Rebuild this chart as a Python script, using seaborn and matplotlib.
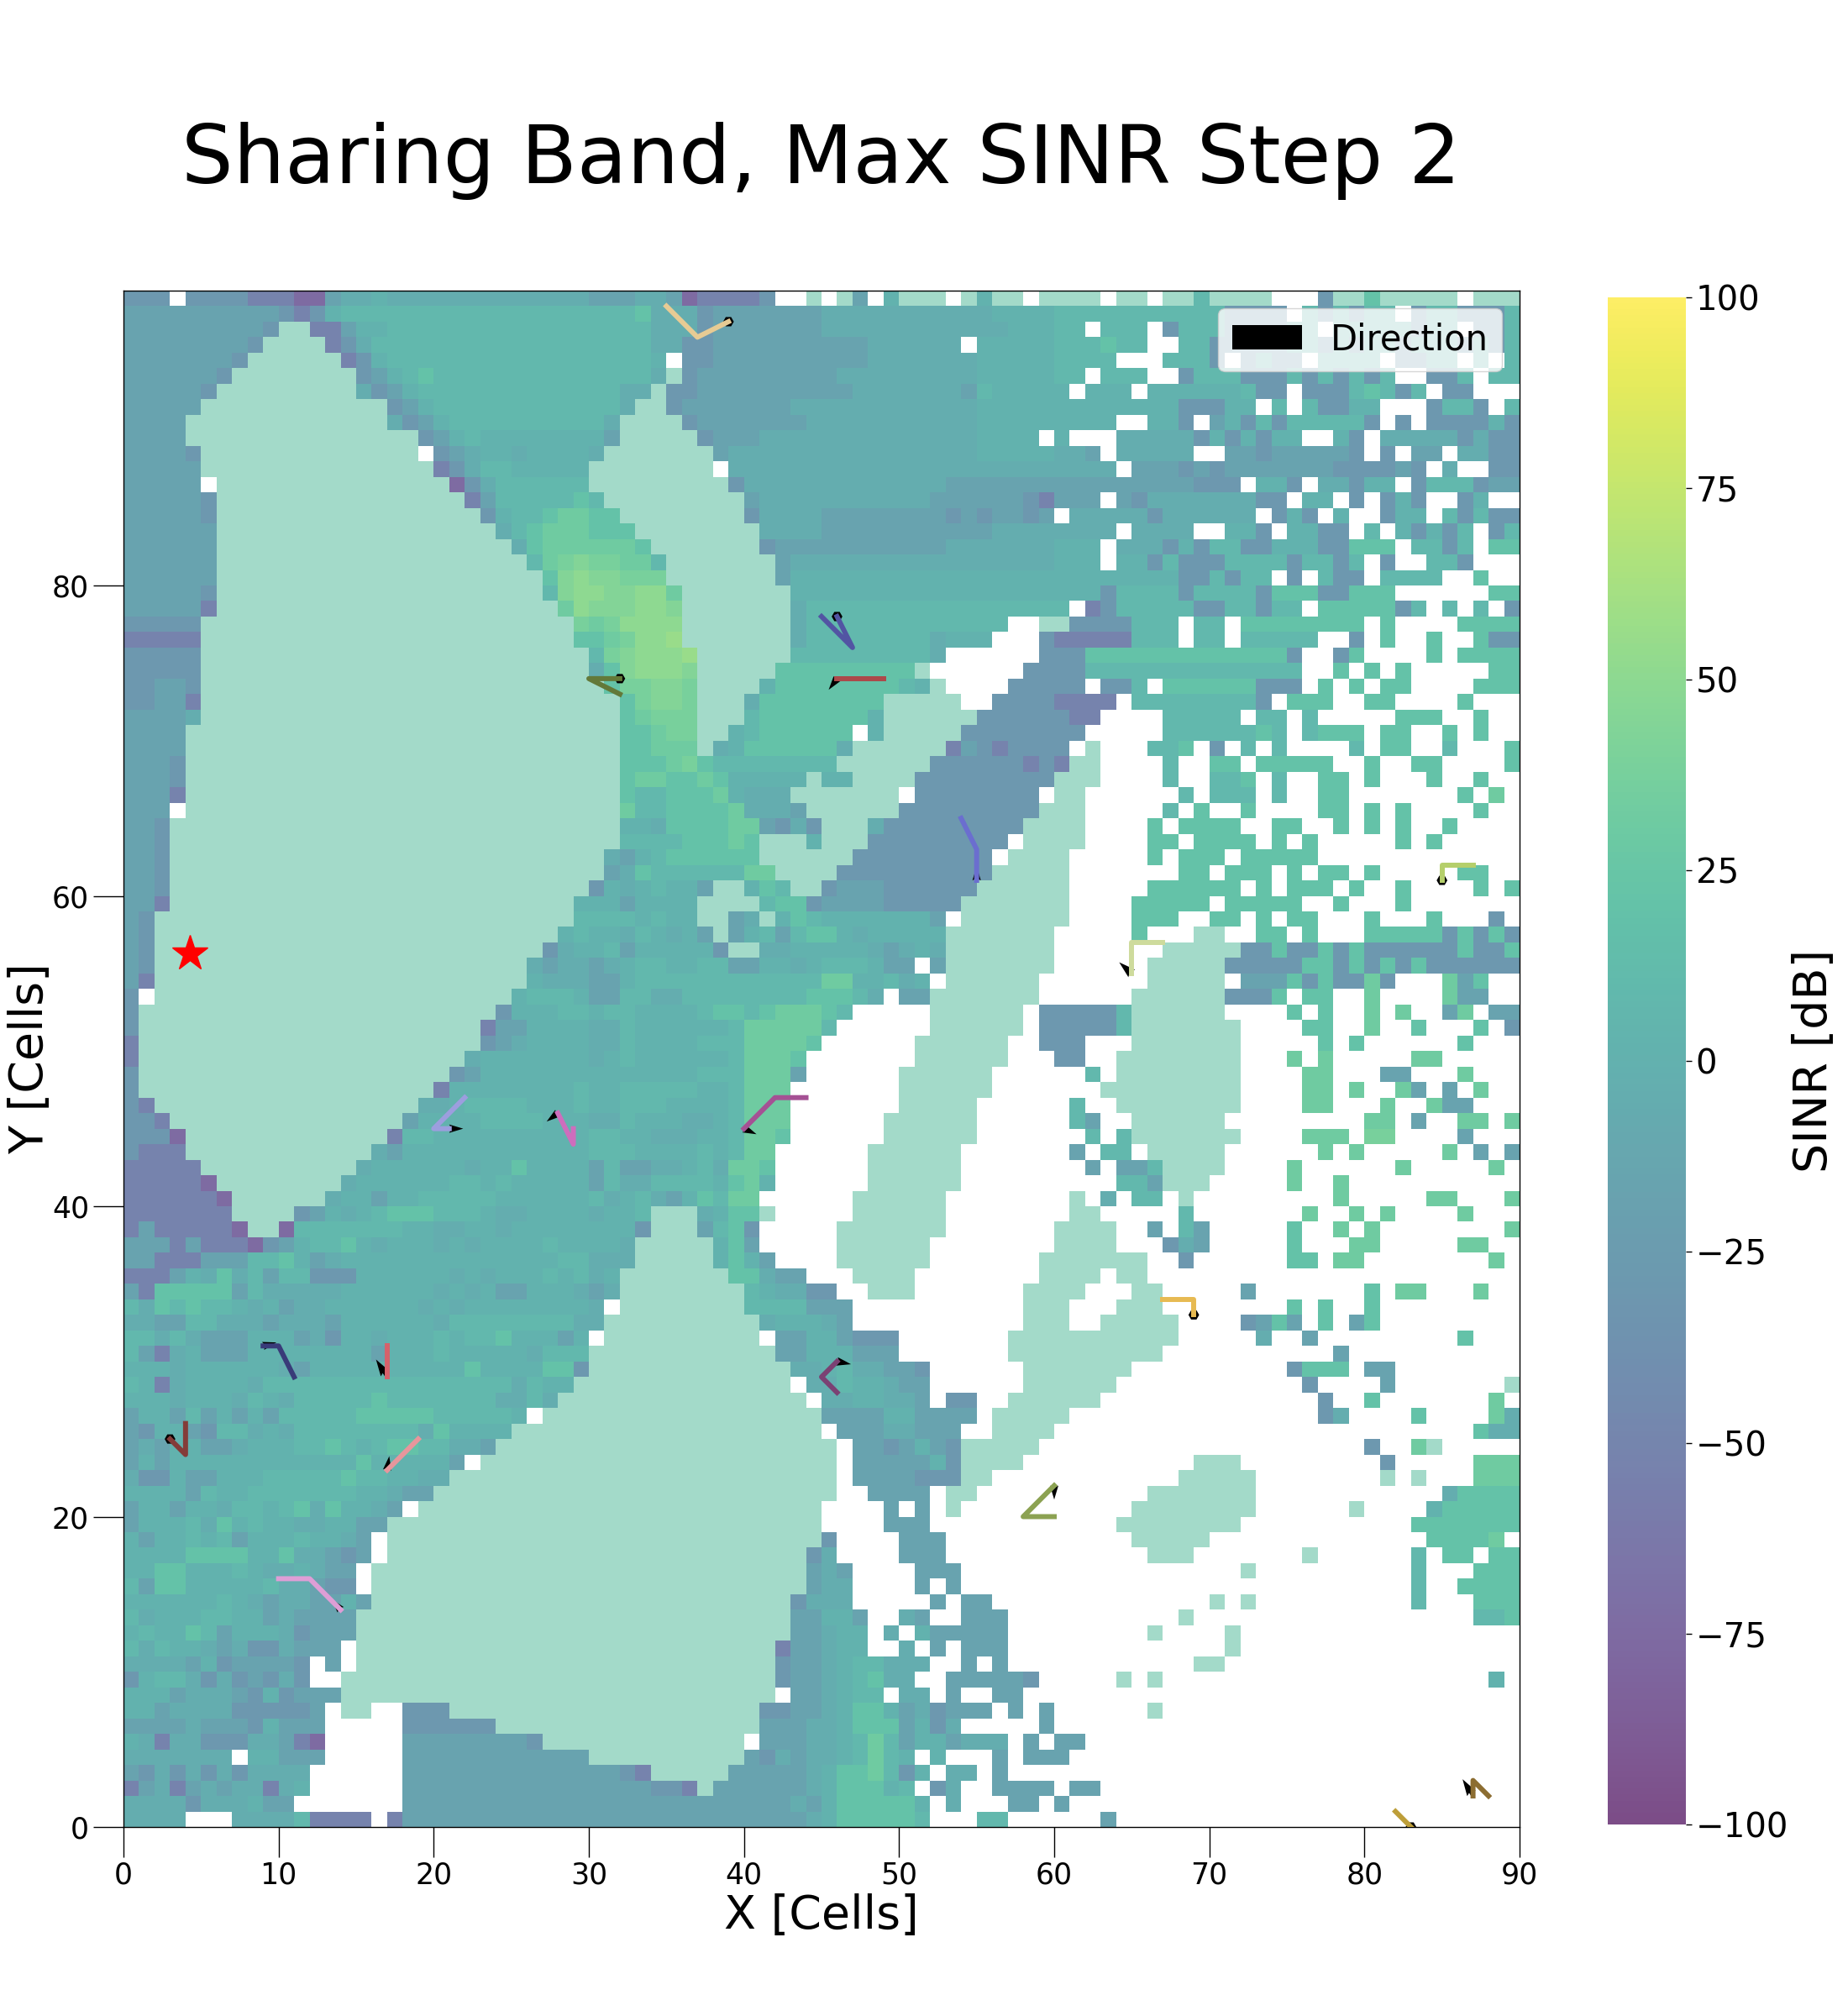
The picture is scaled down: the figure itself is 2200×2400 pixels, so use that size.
import re
import numpy as np
import matplotlib
matplotlib.use('Agg')
import matplotlib.pyplot as plt
from matplotlib.colors import ListedColormap
import seaborn as sns

# SINR levels, dB. '.' is no coverage, 'm' is the pale serving area
levels = {'a': -75, 'b': -52, 'c': -30, 'd': -16, 'e': -5, 'f': 2, 'g': 8, 'h': 20,
          'i': 32, 'j': 38, 'k': 44, 'l': 50, 'n': 56}

# one string per row of cells, top row first, run-length coded in three 30-cell parts
rows = [
    "ccc.ccccbbbaadeef13e dddeedabbbbc..m.md.fmmm.mfmm.m mmm.mm.mmgmmmm...cmmh5m.mmm",
    "10dcbcf16g gggheeec7d11e4f 11g4c.gcgcgg.cgg3cg",
    "9dcmmbbdff13g ggggeeec7d12e3f gg.ggg.cggg4cgg.5gcgg.ccg",
    "8dc4mbce14g ggggeecc10d6e.5f ggghgg..ggcccccggcgcggcgggcgcg",
    "7dc6mbcf13g ggggf.cc10d7e5f 4g...gggc.cgcc.4g.ccgg.g.g",
    "6dc8mcdfgh10g ggggemc9d9e5f gg.ggg..cgggcccgcgcgcg..ccg.gg",
    "5dc9mecdf11g ggeemcc10d7edg4f f.fff.6fgcc.cccghgcg.cc...",
    "5d12mcdf10g ggemmc7d12e5f 8fcccff.g.gccff...cggc.g",
    "4d13mecdf9g gemmmmc7d11e5f 4f..ffc.dfcgc5gc.c.4cfc",
    "4d15mcdfg7f fd5mc3d14e4f. f...5ecfcfcff..fc.5ececc",
    "4dc14m.cdeffe4f e7md16e5f eed.5e..ddc5dc.c.dd.eecc",
    "5d15mbcegg5f 8m.21e 4e.dddcdcdd5d4cdc.e..cc",
    "5d.15mace6g 9mc13e7d 9dccc.ffc.eecff.cgggcdd",
    "5dc16mbd5gh g9md11e6dcb ddd.dc7ecc.ff.c.cfc..cf..",
    "5dc17mcfgghii hh8mc4e8dcdcddcd .5ec6e.cfc.f..cff.gcgcc",
    "6d18meghiii hhh8m4e11d4e 4e.4e..ffc.ffcc.g.fcfcg.cg",
    "6d19mehiii iiih7mc11d7e fff.eeecfcggccfffcchhh.ggcg.hh",
    "6d20mgijk jjiig7md17e fff.ffcgcccggggcggcg.c..ggc...",
    "6d21mhkl kkjjj7md17f 8fccgcgg.c.gcc.4g..h..",
    "5dc21mgkl lkklli7m17f fffc4gc4gchhhcchhh6.hh",
    "5db22mil kkkllk7me16g g.bc5gccggcgg.5hcg.g.g.c",
    "5c24mj ijllll7me13g..m m4c3g.gg.8h.h4.4h",
    "5b24mh hijlln7me8gefff...c 5b3g.gg.5g..c.h..h..hcc",
    "5c25m gjkllln6m9ge6.c cc13hc..ch4.h.4h",
    "5c25m ehklllk5m9hm6.cc cc14g..h.h.h5.hh",
    "ccddc25m mhjjkkj4mf8hgfm4.ccc cc.ccg.6hccc.h.h.hh4.hhh",
    "ccddb25m mmhjkkj3me8h5m..4c 4b.8gc.hhh..hh4.h...",
    "dddde25m mmhijjj3mg7hf6m5c cbb4.5g.gg.g5.hhh..h..",
    "4d26m mmhhijjmmfg6h.f5m6c cc5.6ghg.ghhh.hh..h.h..",
    "4d26m mmhhiiimef6he6mbdcbccc c.m...ggh.c.g.g4.g.hh..g...h",
    "dddc26m mmhhhijh8g6m6cbc bmm4.g..hh.5h..h..hh4.h",
    "dddc26m mmhiihhih5fmff4m9c mmm4.g..ggh.g..hh.h...h..h..",
    "dddb26m mmhgghhhifeee7m.8c. mm6.g.ggg.g..hh7.h.i.",
    "ddd.26m mmigghhhhieeed6m9cm mm5.g.h..h4.hh.h.h4.h..",
    "ddc27m mmffehhhhiidcecmmme9cmm mm4.h.4h..hh..h.h.h..h4.",
    "ddc27m mmgggghhhihmmmfmmm9c.mm mm4.hh.4h.h.h5.h.h5.",
    "ddc27m medfg6h6m9c.mmm m5.h.hhh.5h13.",
    "ddc27m mdehg5gii4m10c4m m7.hh.hhh.h.hh.h5.hh..",
    "ddc27m cfefgffdmmfhgmmcddd6c5m m5.6h.h.hhh.h..h4.h.h",
    "ddb26mf ffdffffmmmmghhc4d5c6m m4.5h.5h..h...h7.",
    "dc27mg gggfgffmmdemfhg7fd.6m m4.hhh..hh.h.hh...h...h...c.",
    "dc26mfg ffegfefdmdfgdghhfe5f7m 5.h...mm..hh.h...5hchchc",
    "dc25mcef fgdfffffcmmee5fedefe7m 7.5mcchcchch6chcch",
    "dc24medee defggffggddffefgggfdd.d7m 6.5m5chhchchch6c",
    "db24mfeee ddfgggg8giiffgef.6m. 6.5m.dddhchccic...idh..",
    "c.23mfgggf ddggeeg7ghhhge.dd7m. 5.6mccch.hh..i4.idd..",
    "c23mcfffgg fggffffghhghiiihg5.6m.c 4cg6m4.h.h..i.i..di.dd",
    "c22mbddffff eeg6fg5ig6.6m.c 4cg7m4.hh..i..h...h.c",
    "b22mcdeffff eegffffggg4ih6.6m..c cc...7m5.h.h6.h...",
    "b21me7f efg6fgiiih7.6m... cc..8m...i.i5.ii5.",
    "c20mcd7f 7fgggiiid6.6m4. ..g.8m4.ii...dd...i...",
    "c19mb8fg ffgggggffgiii7.6m4. ...9m4.ii.i..id.d.i..",
    "cb17meefggggfffg ffgggffffgiii7.5m5. .g..8m4.ii...i..idd...",
    "ccb15mdffffggggfff eegfffeefgiii6.6m5. .gd..6m9.ii.d..ii.i",
    "ccca13mbgg10f ggffeeeffgiih6.6m5. ..g.g7m4.iii.jj4.d...",
    "cbbb12med12f gggffffgfgii6.6m6. .d.gg.5m6.i.i5.i.d.d",
    "5b10me6feffhffff dgddeefgeiih6.6m6. ..d.ddg4m4.i6.i5.i.",
    "5ba8meffffffggfgfffff dgeeggggfhif6.6m6. 4.ggdmmm5.i..i11.",
    "6ba6meffdffgggggffffff gefgedfhgii6.6m7. .m.e.gg.m9.i5.ii...i",
    "7b4mcdfefghhhgggfeeffff effgmmmefhhm5.6m7. .mm5.g7.i..i.i4.i...",
    "bd5bammagggggggffeeffefffff fffcmmmdghc5.7m7. 4m..d.gd5.h..i.i8.i",
    "dddbdbbbacdfgghfefffefeffffgff ffe5mfhd5.6m8. 4m...ced5.h...ii5.ii..",
    "ddbbbdddgghfde14fgg eee5mfhfd4.6m7.m 6m..c6.hh.ii8.i.",
    "bbbdfehegdggcccffffffefefffgfg ef7mhhedd...4m8.m mmm.mm24.",
    "dbhhhhhdgeeeeeffffffefefddfffe de8mgfeecc..mmm7.mm mm...mm5.d7.h.ii...i..",
    "gehghggfefdeeffffffefeffffffff e.8mggggddd11.mm m...mmm8.h.h..h9.",
    "eeddggeeedeeedffffffegggggggge e10mefffed11.mm m..5m4.cdhd.h.dh9.",
    "ggegedddfffdecffefffgfgghfffdf .10m.ddffdccc7.mmm 8m5.e..d9.h...",
    "gdbefdddffffffffdfffgfffffeggg 12mddfffddd7.mmm 7m11.d11.",
    "fffe6fed10fh4fhhc 13meefgeeddc6.mm 5m10.chhh.dd8.",
    "gfbeffffe16gegffm 13m.eegffedd6.mm 4m12.c4.d7.m",
    "fffefffegfe5gh7geegemm 14m.eeffeed.cc..mmm mmm14.c..h7.i.",
    "dffdgdfdfd5g5h5gf.mmm 15mddddffdddd.4m m16.ce4.h4.ie",
    "dcffdcggefe8gehffff5m 15m.dddeeddd..4m 27.hee",
    "dedffddefffgghgfghhggeed6m 16m.ddcdfdc5m. 20.c..im5.",
    "dfd12fh5fd.7m 16m.5dfc4m.. 9.mmm9.c5.iii",
    "eccfddfff5ghggffee9m 16m.4dcccmm4. 8.5m8.m.m...iii",
    "ffffdgff7gffedd10m 16m..4d.mm5. 6.7m12.e4h",
    "dffdffeggfghehffed.11m 15m4.d.d.m6. 5.8m6.m4.f5h",
    "dfffgehfgffeeffdd13m 15m4.ddd8. 4.8m11.7h",
    "fdffgfgdfffgffed.13m 15mc4.ddd7. 5.5m14.4hi.",
    "ffffhhhhffheedcd.13m 14mce4.ddd7. 6.mmm7.m6.g.hh.hh",
    "ffhhfffgfeefedd.14m 14mded4.ddd6. 12.m10.g...hhh",
    "gdhh5fgeedcc.14m 14mdee4.d.d6. 23.g..4h",
    "6fgfedeeddfd14m 13mceee5.d.dd4. 10.m.m10.g...hhh",
    "gefffggffdedddd15m 13mddffd..ed..ddd... 8.m18.ggh",
    "fgffhgdfffecddd15m 13mddeff.e.f5d... 6.m4.m18.",
    "gegffedecceddd.15m 12mbddeff..e.d.ddd... 11.m18.",
    "eeeedfcddddc.d.15m 12mcddefggeee..d.d... 9.mm19.",
    "cfggececdcec..16m 12mcddefghee..5dc. 4.m.m21.f.",
    "fffdeeedcfcddd16m 12m.ddefgg.ee.d..dd.. 30.",
    "ffd4e5cd.mm..ccc9m 11mccddefhhfdec3d.d.d 6.m23.",
    "4de3dcf3d5.6c6m 11mdddeefhhhdfce5.d 30.",
    "febeeccceedba5.8dc3m 10m.dddeefgigdffdeee.d. dd28.",
    "7e.ff3d5.12d 10mdcedeefgigf.f...d.dd d29.",
    "dcececec4e6.12d ddcb5m5defhhigcf.ee.d... 30.",
    "bdebdedeebef6.12d 4dccbm4dddefhhhfg.ce..4d .dd27.",
    "4ec3efdd7.12d 13dedf5hf.e...dd. d29.",
    "4e...4eg4b.b12d 14def5hg...gg... ...d26.",
]

# user routes, cells
route_x = [[39, 37, 35], [46, 47, 45], [32, 30, 32], [49, 46], [54, 55, 55], [85, 85, 87],
           [67, 65, 65], [44, 42, 40], [22, 20, 21], [28, 29, 29], [11, 10, 9], [17, 17],
           [3, 4, 4], [19, 17], [10, 12, 14], [46, 45, 46], [60, 58, 60], [67, 69, 69],
           [87, 87, 88], [82, 83]]
route_y = [[97, 96, 98], [78, 76, 78], [74, 74, 73], [74, 74], [65, 63, 61], [61, 62, 62],
           [57, 57, 55], [47, 47, 45], [47, 45, 45], [46, 44, 45], [29, 31, 31], [31, 29],
           [25, 24, 26], [25, 23], [16, 16, 14], [30, 29, 28], [22, 20, 20], [34, 34, 33],
           [2, 3, 2], [1, 0]]
route_colors = ['#e7cb94', '#5254a3', '#637939', '#ad494a', '#6b6ecf', '#b5cf6b', '#cedb9c',
                '#a55194', '#9c9ede', '#ce6dbd', '#393b79', '#d6616b', '#843c39', '#e7969c',
                '#de9ed6', '#7b4173', '#8ca252', '#e7ba52', '#8c6d31', '#bd9e39']

# direction arrows at the route ends
arrow_x = [46, 55, 65, 40, 21, 28, 9, 17, 17, 14, 46, 60, 87]
arrow_y = [74, 61, 55, 45, 45, 46, 31, 29, 23, 14, 30, 22, 2]
arrow_u = [-0.6, 0, -0.9, 0.9, 1, -0.8, 0.95, -0.8, 0.15, -0.65, 1, 0, -0.75]
arrow_v = [-0.8, 1, 0.8, -0.4, 0, -0.6, 0.25, 1.25, 1, 0.75, -0.2, -1, 1.2]
# stationary users, these draw as dots
still_x = [39, 46, 32, 85, 3, 69, 83]
still_y = [97, 78, 74, 61, 25, 33, 0]

tx_x = 4.3
tx_y = 56.3


def expand(part):
    cells = ''.join(c * int(n or 1) for n, c in re.findall(r'(\d*)(\D)', part))
    return cells


grid = []
for row in rows:
    parts = [expand(p) for p in row.split()]
    grid.append(''.join(p.ljust(30, '.')[:30] for p in parts))

grid = grid[::-1]  # row 0 is y = 0
sinr = np.array([[levels.get(c, np.nan) for c in row] for row in grid], dtype=float)
pale = np.array([[1.0 if c == 'm' else np.nan for c in row] for row in grid])

fig = plt.figure(figsize=(22, 24), dpi=100)
ax = fig.add_axes([147 / 2200, 1 - 2175 / 2400, 1662 / 2200, 1829 / 2400])
cax = fig.add_axes([1914 / 2200, 1 - 2172 / 2400, 93 / 2200, 1818 / 2400])

sns.heatmap(sinr, ax=ax, cmap='viridis', vmin=-100, vmax=100, alpha=0.7, cbar_ax=cax,
            xticklabels=False, yticklabels=False, linewidths=0)
sns.heatmap(pale, ax=ax, cmap=ListedColormap(['#a3dac9']), cbar=False,
            xticklabels=False, yticklabels=False, linewidths=0)

ax.quiver(arrow_x, arrow_y, arrow_u, arrow_v, angles='uv', scale=100, width=0.0024,
          color='black', label='Direction', zorder=3)
ax.quiver(still_x, still_y, np.zeros(len(still_x)), np.zeros(len(still_x)), angles='uv',
          scale=100, width=0.0024, minlength=3.2, color='black', zorder=3)
for xs, ys, color in zip(route_x, route_y, route_colors):
    ax.plot(xs, ys, color=color, linewidth=4.3, zorder=4)
ax.plot([tx_x], [tx_y], marker='*', color='red', markersize=32, zorder=5, linestyle='none')

ax.set_xlim(0, 90)
ax.set_ylim(0, 99)
ax.set_xticks(np.arange(0, 100, 10))
ax.set_xticklabels(np.arange(0, 100, 10), rotation=0)
ax.set_yticks(np.arange(0, 90, 20))
ax.set_yticklabels(np.arange(0, 90, 20), rotation=0)
ax.tick_params(labelsize=25, length=26, width=1, left=True, bottom=True)
for spine in ax.spines.values():
    spine.set_visible(True)
    spine.set_color('black')
    spine.set_linewidth(1)

ax.set_title('Sharing Band, Max SINR Step 2', fontsize=70, pad=92)
ax.set_xlabel('X [Cells]', fontsize=40, labelpad=3)
ax.set_ylabel('Y [Cells]', fontsize=40, labelpad=-1)
ax.legend(loc='upper right', fontsize=30)

cbar = ax.collections[0].colorbar
cbar.set_ticks(np.arange(-100, 125, 25))
cbar.ax.tick_params(labelsize=29, length=5, width=1)
cbar.set_label('SINR [dB]', fontsize=40, labelpad=3)
cbar.outline.set_visible(True)

fig.savefig('out.png', dpi=100)
